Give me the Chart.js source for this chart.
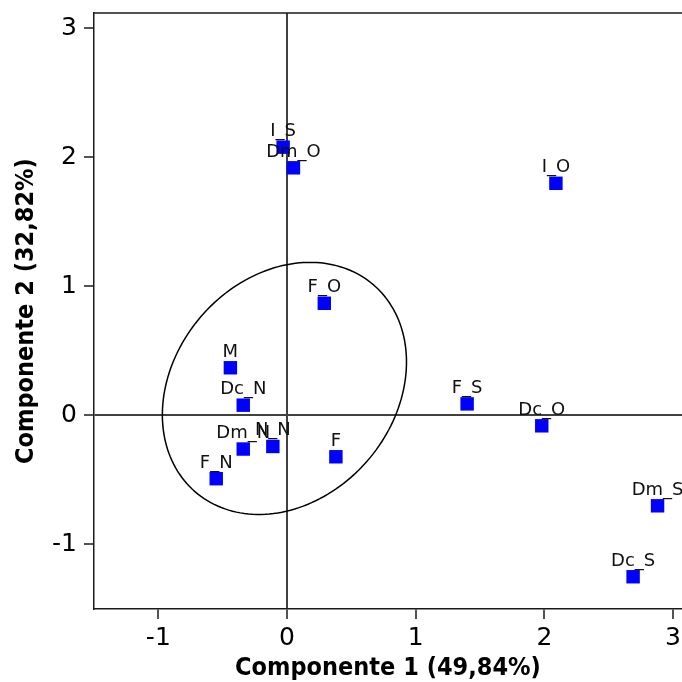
<!DOCTYPE html>
<html>
<head>
<meta charset="utf-8">
<title>Componente 1 vs Componente 2</title>
<script src="https://cdn.jsdelivr.net/npm/chart.js@4.4.1/dist/chart.umd.min.js"></script>
<style>
  html, body { margin: 0; padding: 0; background: #fff; }
  #chart { display: block; }
</style>
</head>
<body>
<canvas id="chart" width="682" height="682"></canvas>
<script>
// --- Daten ---
const pointNames = ['I_S', 'Dm_O', 'I_O', 'F_O', 'M', 'Dc_N', 'Dm_N', 'N_N', 'F_N', 'F', 'F_S', 'Dc_O', 'Dm_S', 'Dc_S'];
const comp1 = [-0.03, 0.05, 2.09, 0.29, -0.44, -0.34, -0.34, -0.11, -0.55, 0.38, 1.40, 1.98, 2.88, 2.69];
const comp2 = [2.08, 1.92, 1.80, 0.87, 0.37, 0.08, -0.26, -0.24, -0.49, -0.32, 0.09, -0.08, -0.70, -1.25];

const xTicks = [-1, 0, 1, 2, 3];
const yTicks = [-1, 0, 1, 2, 3];

const xTitle = 'Componente 1 (49,84%)';
const yTitle = 'Componente 2 (32,82%)';

// Ellipse: Mittelpunkt, Halbachsen, Winkel (Daten-Einheiten)
const ellipseCenter = [-0.02, 0.21];
const ellipseAxes = [1.06, 0.855];
const ellipseAngle = 49;

// --- Punkte zusammenbauen ---
const points = [];
for (let i = 0; i < pointNames.length; i++) {
    points.push({ x: comp1[i], y: comp2[i] });
}

// --- Plugin: Ellipse, Rahmen oben, Beschriftungen ---
const extrasPlugin = {
    id: 'extras',
    beforeDatasetsDraw(chart) {
        const ctx = chart.ctx;
        const xs = chart.scales.x, ys = chart.scales.y;
        const area = chart.chartArea;

        // obere Rahmenlinie
        ctx.save();
        ctx.strokeStyle = '#1a1a1a';
        ctx.lineWidth = 1.5;
        ctx.beginPath();
        ctx.moveTo(area.left, area.top);
        ctx.lineTo(area.right, area.top);
        ctx.stroke();

        // Ellipse
        const rad = ellipseAngle * Math.PI / 180;
        ctx.strokeStyle = '#000';
        ctx.lineWidth = 1.5;
        ctx.beginPath();
        for (let k = 0; k <= 180; k++) {
            const t = k / 180 * Math.PI * 2;
            const ex = ellipseAxes[0] * Math.cos(t), ey = ellipseAxes[1] * Math.sin(t);
            const dx = ellipseCenter[0] + ex * Math.cos(rad) - ey * Math.sin(rad);
            const dy = ellipseCenter[1] + ex * Math.sin(rad) + ey * Math.cos(rad);
            const px = xs.getPixelForValue(dx), py = ys.getPixelForValue(dy);
            if (k === 0) ctx.moveTo(px, py); else ctx.lineTo(px, py);
        }
        ctx.closePath();
        ctx.stroke();
        ctx.restore();
    },
    afterDatasetsDraw(chart) {
        const ctx = chart.ctx;
        const meta = chart.getDatasetMeta(0);
        ctx.save();
        ctx.font = '18px "DejaVu Sans"';
        ctx.fillStyle = '#111';
        ctx.textAlign = 'center';
        ctx.textBaseline = 'alphabetic';
        for (let i = 0; i < meta.data.length; i++) {
            const el = meta.data[i];
            ctx.fillText(pointNames[i], el.x, el.y - 11);
        }
        ctx.restore();
    }
};

// nur die Null-Linie als Gitterlinie
function zeroLine(c) {
    return c.tick && c.tick.value === 0 ? '#404040' : 'rgba(0,0,0,0)';
}

const chart = new Chart(document.getElementById('chart').getContext('2d'), {
    type: 'scatter',
    data: {
        datasets: [{
            data: points,
            pointStyle: 'rect',
            pointRadius: 9.5,
            pointHoverRadius: 9.5,
            backgroundColor: '#0000ff',
            borderColor: '#0000ff',
            borderWidth: 0
        }]
    },
    plugins: [extrasPlugin],
    options: {
        responsive: false,
        animation: false,
        layout: { autoPadding: false, padding: { top: 13, right: 0, left: 0, bottom: 0 } },
        plugins: {
            legend: { display: false },
            tooltip: { enabled: false }
        },
        scales: {
            x: {
                type: 'linear',
                min: -1.5,
                max: 3.07,
                afterBuildTicks: function(scale) {
                    scale.ticks = xTicks.map(v => ({ value: v }));
                },
                afterFit: function(scale) {
                    scale.height = 73;
                    scale.paddingLeft = 0;
                    scale.paddingRight = 0;
                },
                ticks: {
                    color: '#000',
                    font: { family: 'DejaVu Sans', size: 25 },
                    padding: 4,
                    maxRotation: 0,
                    autoSkip: false
                },
                grid: {
                    color: zeroLine,
                    lineWidth: 2,
                    tickColor: '#1a1a1a',
                    tickLength: 10,
                    tickWidth: 1.5
                },
                border: { display: true, color: '#1a1a1a', width: 1.5 },
                title: {
                    display: true,
                    text: xTitle,
                    color: '#000',
                    font: { family: 'DejaVu Sans Condensed', size: 25, weight: 'bold', lineHeight: 1 },
                    padding: { top: 0, bottom: 1 }
                }
            },
            y: {
                type: 'linear',
                min: -1.5,
                max: 3.12,
                afterBuildTicks: function(scale) {
                    scale.ticks = yTicks.map(v => ({ value: v }));
                },
                afterFit: function(scale) {
                    scale.width = 94;
                    scale.paddingTop = 0;
                    scale.paddingBottom = 0;
                },
                ticks: {
                    color: '#000',
                    font: { family: 'DejaVu Sans', size: 25 },
                    padding: 7,
                    autoSkip: false
                },
                grid: {
                    color: zeroLine,
                    lineWidth: 2,
                    tickColor: '#1a1a1a',
                    tickLength: 10,
                    tickWidth: 1.5
                },
                border: { display: true, color: '#1a1a1a', width: 1.5 },
                title: {
                    display: true,
                    text: yTitle,
                    color: '#000',
                    font: { family: 'DejaVu Sans Condensed', size: 25, weight: 'bold', lineHeight: 1 },
                    padding: { top: 14, bottom: 0 }
                }
            }
        }
    }
});
</script>
</body>
</html>
